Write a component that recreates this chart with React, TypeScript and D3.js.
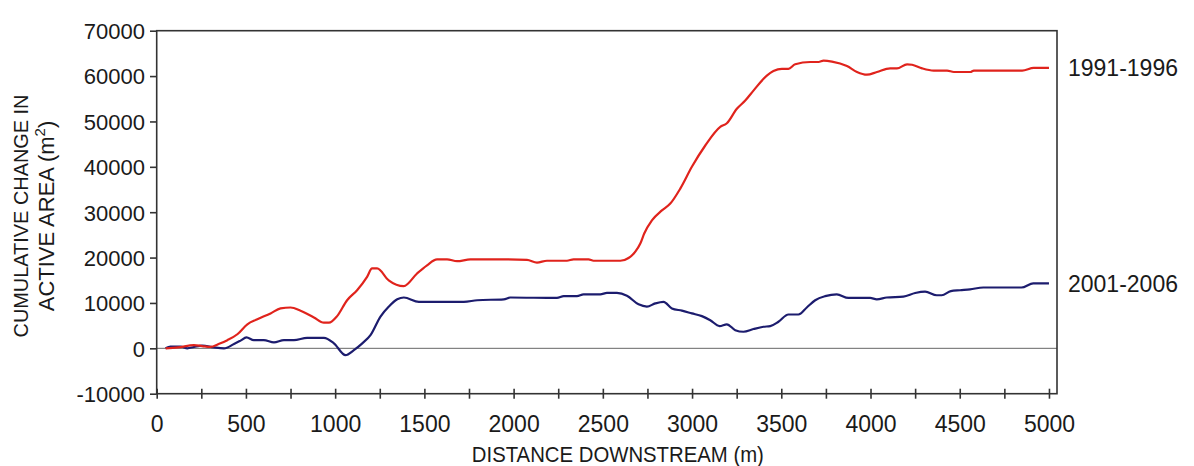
import React, { useEffect, useRef } from 'react';
import * as d3 from 'd3';

// distance downstream (m) and cumulative change in active area (m2)
const redDist = [
  50, 120, 209, 255, 300, 350, 396, 452, 508, 564, 638, 694, 750, 806, 881, 937, 965, 1011, 1067, 1123,
  1179, 1207, 1235, 1300, 1384, 1459, 1515, 1571, 1627, 1683, 1758, 1926, 2075, 2131, 2187, 2299, 2336,
  2420, 2448, 2598, 2644, 2682, 2710, 2732, 2775, 2831, 2878, 2934, 2999, 3074, 3158, 3195, 3251, 3298,
  3344, 3419, 3456, 3503, 3540, 3578, 3662, 3709, 3737, 3784, 3868, 3924, 3980, 4036, 4110, 4148, 4205,
  4233, 4289, 4354, 4429, 4467, 4560, 4579, 4850, 4915, 5000,
];
const redVals = [
  0, 200, 700, 500, 300, 1000, 1800, 3100, 5300, 6400, 7700, 8800, 9000, 8300, 6800, 5650, 5650, 7100,
  10600, 12800, 15750, 17600, 17600, 15000, 13700, 16500, 18300, 19600, 19600, 19200, 19600, 19600, 19500,
  18900, 19300, 19300, 19600, 19600, 19300, 19300, 19900, 21300, 23100, 25300, 28200, 30400, 31900, 35200,
  40000, 44700, 48800, 49600, 52800, 54600, 56800, 60100, 61100, 61600, 61600, 62600, 63100, 63100, 63400,
  63200, 62200, 60900, 60300, 60900, 61700, 61700, 62600, 62500, 61700, 61200, 61200, 60900, 60900, 61200,
  61200, 61800, 61800,
];

const blueDist = [
  50, 77, 134, 172, 209, 255, 321, 377, 433, 470, 503, 544, 600, 657, 713, 769, 843, 937, 993, 1058, 1105,
  1152, 1198, 1254, 1301, 1348, 1385, 1469, 1721, 1796, 1945, 1982, 2243, 2281, 2355, 2392, 2486, 2523,
  2579, 2635, 2700, 2747, 2794, 2840, 2887, 2943, 2999, 3055, 3102, 3154, 3195, 3242, 3288, 3344, 3400,
  3438, 3484, 3540, 3596, 3643, 3690, 3746, 3811, 3876, 3998, 4035, 4091, 4184, 4250, 4306, 4371, 4399,
  4450, 4502, 4558, 4632, 4846, 4912, 5000,
];
const blueVals = [
  0, 400, 400, 0, 300, 600, 200, 0, 950, 1700, 2400, 1800, 1800, 1300, 1800, 1800, 2300, 2300, 1100, -1500,
  -400, 1100, 2900, 7000, 9200, 10800, 11200, 10250, 10250, 10600, 10800, 11200, 11100, 11500, 11500,
  11900, 11900, 12200, 12200, 11600, 9700, 9200, 9900, 10250, 8800, 8300, 7700, 7100, 6200, 4900, 5300,
  4000, 3650, 4250, 4750, 4900, 5850, 7450, 7450, 9000, 10600, 11500, 11900, 11100, 11100, 10800, 11200,
  11400, 12200, 12500, 11700, 11700, 12600, 12800, 13000, 13400, 13400, 14300, 14300,
];

const seriesNames = ['1991-1996', '2001-2006'];
const yTicks = [-10000, 0, 10000, 20000, 30000, 40000, 50000, 60000, 70000];
const xTicks = [0, 250, 500, 750, 1000, 1250, 1500, 1750, 2000, 2250, 2500, 2750, 3000, 3250, 3500, 3750, 4000, 4250, 4500, 4750, 5000];

const W = 1194;
const H = 466;
const FONT = '"Liberation Sans", Arial, sans-serif';

export default function App() {
  const ref = useRef<SVGSVGElement>(null);

  useEffect(() => {
    const margin = { top: 30.7, left: 156.7, right: 1057, bottom: 393.7 };
    const svg = d3.select(ref.current);
    svg.selectAll('*').remove();

    const x = d3.scaleLinear().domain([0, 5045]).range([margin.left, margin.right]);
    const y = d3.scaleLinear().domain([-10000, 70000]).range([margin.bottom, margin.top]);

    // zero line
    svg
      .append('line')
      .attr('x1', margin.left)
      .attr('x2', margin.right)
      .attr('y1', y(0))
      .attr('y2', y(0))
      .attr('stroke', '#666')
      .attr('stroke-width', 1);

    // frame
    svg
      .append('rect')
      .attr('x', margin.left)
      .attr('y', margin.top)
      .attr('width', margin.right - margin.left)
      .attr('height', margin.bottom - margin.top)
      .attr('fill', 'none')
      .attr('stroke', '#333')
      .attr('stroke-width', 1.6);

    // y axis
    const yAxis = svg
      .append('g')
      .attr('transform', `translate(${margin.left},0)`)
      .call(d3.axisLeft(y).tickValues(yTicks).tickSize(6.7).tickPadding(5).tickFormat((d) => String(d)));
    yAxis.select('.domain').remove();
    yAxis.selectAll('line').attr('stroke', '#333').attr('stroke-width', 1.6);
    yAxis
      .selectAll('text')
      .attr('font-family', FONT)
      .attr('font-size', 22)
      .attr('fill', '#1a1a1a')
      .attr('dy', '0.36em');

    // x axis: ticks cross the bottom frame line
    const xAxis = svg
      .append('g')
      .attr('transform', `translate(0,${margin.bottom - 5})`)
      .call(
        d3
          .axisBottom(x)
          .tickValues(xTicks)
          .tickSize(10)
          .tickFormat((d) => ((d as number) % 500 === 0 ? String(d) : ''))
      );
    xAxis.select('.domain').remove();
    xAxis.selectAll('line').attr('stroke', '#333').attr('stroke-width', 1.6);
    xAxis
      .selectAll('text')
      .attr('font-family', FONT)
      .attr('font-size', 23)
      .attr('fill', '#1a1a1a')
      .attr('y', 0)
      .attr('dy', 0)
      .attr('transform', `translate(0,${432 - (margin.bottom - 5)})`);

    const line = d3
      .line<[number, number]>()
      .x((d) => x(d[0]))
      .y((d) => y(d[1]))
      .curve(d3.curveMonotoneX);

    const red: [number, number][] = redDist.map((d, i) => [d, redVals[i]]);
    const blue: [number, number][] = blueDist.map((d, i) => [d, blueVals[i]]);

    svg
      .append('path')
      .datum(blue)
      .attr('fill', 'none')
      .attr('stroke', '#1c1c6e')
      .attr('stroke-width', 2.2)
      .attr('d', line);

    svg
      .append('path')
      .datum(red)
      .attr('fill', 'none')
      .attr('stroke', '#e0231c')
      .attr('stroke-width', 2.2)
      .attr('d', line);

    // series labels
    const lastVals = [redVals[redVals.length - 1], blueVals[blueVals.length - 1]];
    seriesNames.forEach((name, i) => {
      svg
        .append('text')
        .attr('x', 1068)
        .attr('y', y(lastVals[i]))
        .attr('dy', '0.36em')
        .attr('font-family', FONT)
        .attr('font-size', 23)
        .attr('fill', '#1a1a1a')
        .text(name);
    });

    // axis titles
    svg
      .append('text')
      .attr('x', (margin.left + margin.right) / 2 + 11)
      .attr('y', 462)
      .attr('text-anchor', 'middle')
      .attr('font-family', FONT)
      .attr('font-size', 22)
      .attr('fill', '#1a1a1a')
      .attr('textLength', 292)
      .attr('lengthAdjust', 'spacingAndGlyphs')
      .text('DISTANCE DOWNSTREAM (m)');

    const yTitle = svg.append('g').attr('transform', 'translate(0,216) rotate(-90)');
    yTitle
      .append('text')
      .attr('x', 0)
      .attr('y', 28)
      .attr('text-anchor', 'middle')
      .attr('font-family', FONT)
      .attr('font-size', 21)
      .attr('fill', '#1a1a1a')
      .attr('textLength', 243)
      .attr('lengthAdjust', 'spacingAndGlyphs')
      .text('CUMULATIVE CHANGE IN');
    const t2 = yTitle
      .append('text')
      .attr('x', 0)
      .attr('y', 54)
      .attr('text-anchor', 'middle')
      .attr('font-family', FONT)
      .attr('font-size', 22)
      .attr('fill', '#1a1a1a');
    t2.append('tspan').text('ACTIVE AREA (m');
    t2.append('tspan').attr('dy', -9).attr('font-size', 15).text('2');
    t2.append('tspan').attr('dy', 9).text(')');
  }, []);

  return (
    <>
      <style>{'body{margin:0;background:#fff}'}</style>
      <svg ref={ref} width={W} height={H} style={{ display: 'block' }} />
    </>
  );
}
